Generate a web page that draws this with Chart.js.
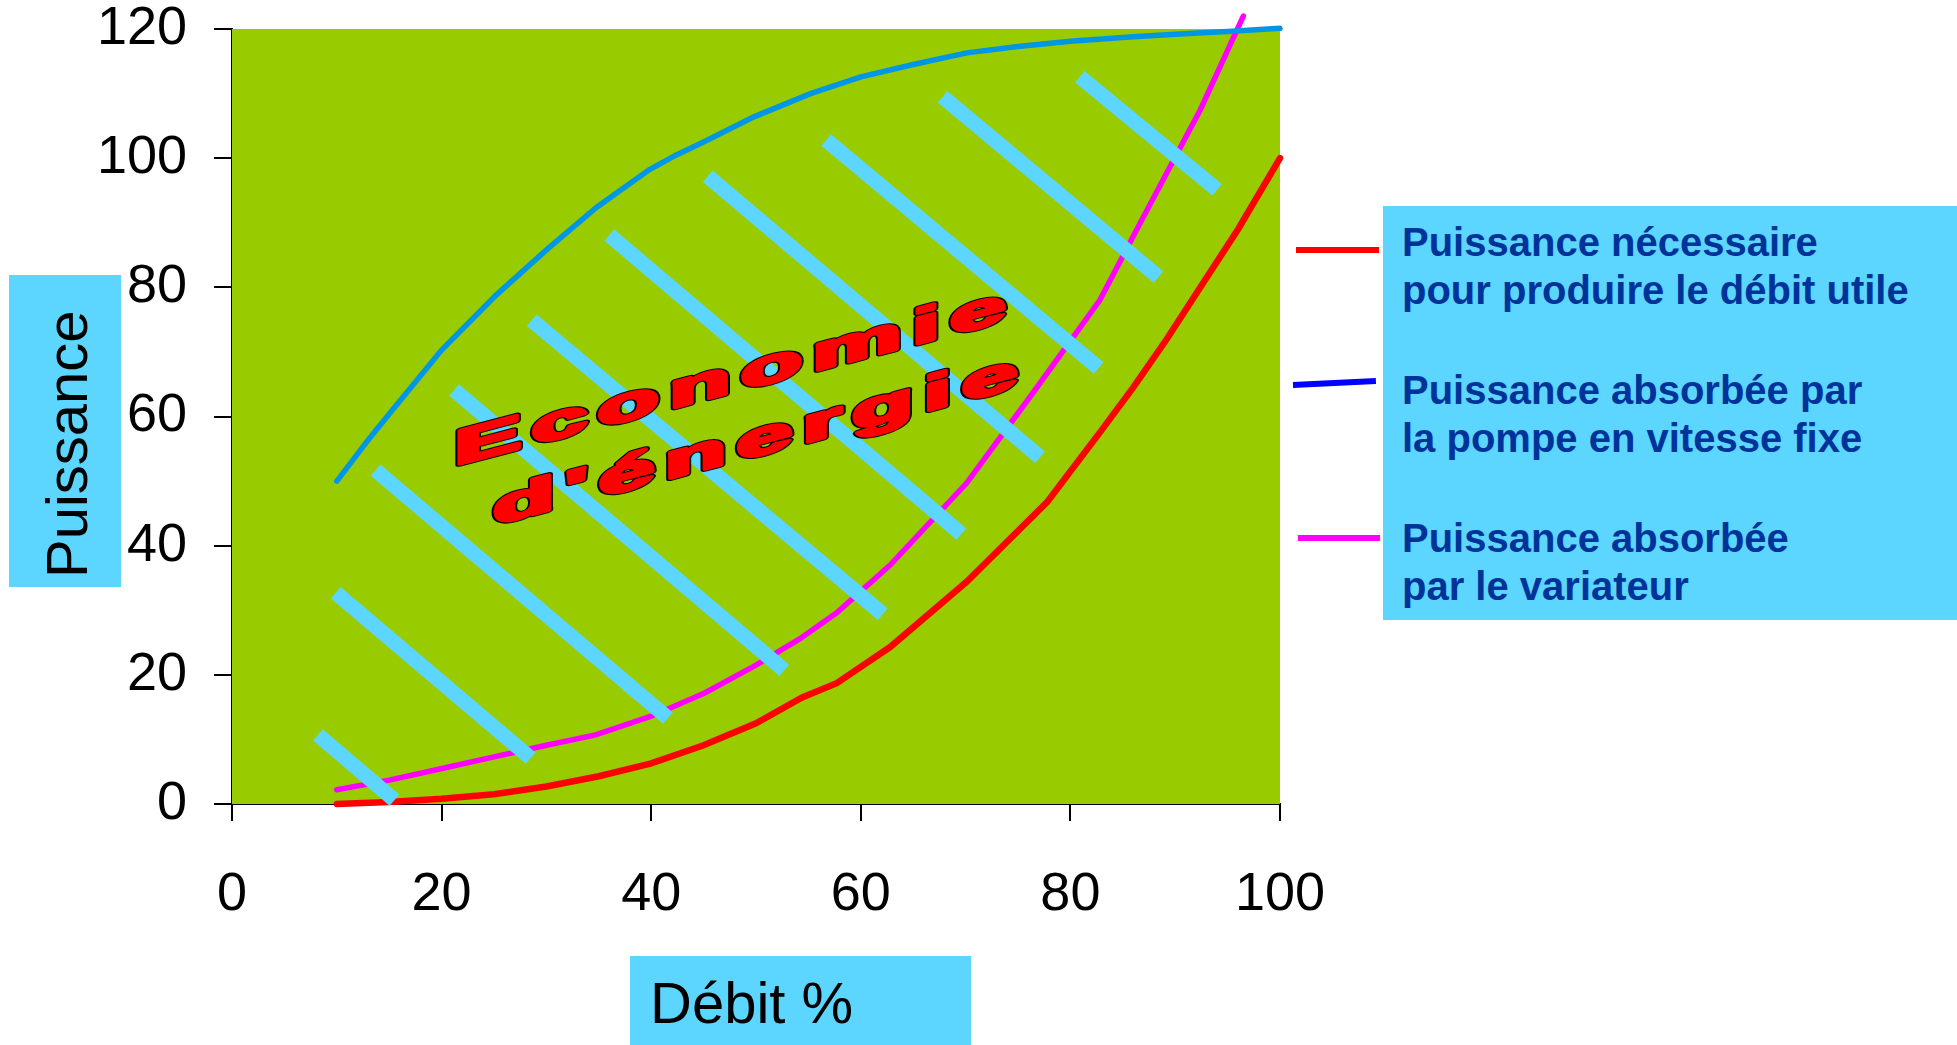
<!DOCTYPE html>
<html>
<head>
<meta charset="utf-8">
<script src="https://cdn.jsdelivr.net/npm/chart.js@4.4.1/dist/chart.umd.min.js"></script>
<style>
  html, body { margin: 0; padding: 0; background: #fff; overflow: hidden; }
  #wrap { position: relative; width: 1957px; height: 1045px; }
  #chart { position: absolute; left: 0; top: 0; }
  .box { position: absolute; background: #5CD6FF; }
  .txt { position: absolute; white-space: nowrap; line-height: 1; font-family: "Liberation Sans", Arial, sans-serif; }
  .leg { font-size: 40px; font-weight: bold; color: #003399; left: 1402px; }
  .swatch { position: absolute; height: 6px; }
</style>
</head>
<body>
<div id="wrap">
  <canvas id="chart" width="1957" height="1045"></canvas>

  <!-- axis titles -->
  <div class="box" style="left:9px; top:275px; width:112px; height:312px;"></div>
  <div class="txt" style="left:38px; top:578px; font-size:58px; color:#000; transform-origin:0 0; transform:rotate(-90deg);">Puissance</div>
  <div class="box" style="left:630px; top:956px; width:341px; height:89px;"></div>
  <div class="txt" style="left:650px; top:974px; font-size:58px; color:#000;">Débit %</div>

  <!-- legend -->
  <div class="swatch" style="left:1296px; top:247px; width:83px; background:#FF0000;"></div>
  <div class="swatch" style="left:1293px; top:382px; width:83px; background:#0000FF; transform-origin:0 50%; transform:rotate(-2.8deg);"></div>
  <div class="swatch" style="left:1298px; top:535px; width:82px; background:#FF00FF;"></div>
  <div class="box" style="left:1383px; top:206px; width:574px; height:414px;"></div>
  <div class="txt leg" style="top:222px;">Puissance nécessaire</div>
  <div class="txt leg" style="top:270px;">pour produire le débit utile</div>
  <div class="txt leg" style="top:370px;">Puissance absorbée par</div>
  <div class="txt leg" style="top:418px;">la pompe en vitesse fixe</div>
  <div class="txt leg" style="top:518px;">Puissance absorbée</div>
  <div class="txt leg" style="top:566px;">par le variateur</div>
</div>

<script>
// Débit % (x) and Puissance (y)
var necessaireX = [10, 15, 20, 25, 30, 35, 40, 45, 50, 54.4, 57.7, 62.8, 70.1, 77.8, 82.8, 86, 89.2, 92.4, 96, 100];
var necessaireY = [0, 0.3, 0.8, 1.5, 2.7, 4.3, 6.3, 9.1, 12.5, 16.5, 18.7, 24.3, 34.4, 46.8, 57.5, 64.5, 72, 80, 89, 100];

var vitesseFixeX = [10, 13.2, 15, 20, 25.2, 30, 34.8, 39.8, 42.4, 45, 49.8, 55.2, 60, 65, 70.1, 75, 80, 86, 90, 95, 100];
var vitesseFixeY = [50, 56.8, 60.4, 70.3, 78.8, 85.8, 92.4, 98.2, 100.5, 102.5, 106.4, 110, 112.6, 114.5, 116.3, 117.3, 118.1, 118.8, 119.2, 119.6, 120.1];

var variateurX = [10, 15, 19.5, 25, 30, 34.7, 40, 45.1, 50, 54.2, 57.7, 62.8, 70.1, 76.4, 82.8, 87, 92.4, 96.5];
var variateurY = [2.2, 3.7, 5.3, 7.3, 9.1, 10.7, 13.6, 17.2, 21.5, 25.6, 29.6, 37, 49.7, 63.6, 78, 91, 107.5, 122];

// hatch stripes of the "energy saving" zone: start and end points
var hachureX1 = [8.2, 9.9, 13.7, 21.2, 28.6, 36, 45.4, 56.7, 67.8, 80.9];
var hachureY1 = [10.7, 32.7, 51.7, 64.1, 74.9, 88.1, 97.2, 102.8, 109.5, 112.6];
var hachureX2 = [15.5, 28.5, 41.6, 52.7, 62.1, 69.6, 77.1, 82.7, 88.4, 94];
var hachureY2 = [0.6, 7.1, 13.3, 20.7, 29.4, 41.8, 53.7, 67.5, 81.6, 95.1];

var xTicks = [0, 20, 40, 60, 80, 100];
var yTicks = [0, 20, 40, 60, 80, 100, 120];

var FONT = '"Liberation Sans", Arial, sans-serif';

function pts(xs, ys) {
    return xs.map(function (x, i) { return {x: x, y: ys[i]}; });
}

var datasets = [];

hachureX1.forEach(function (x1, i) {
    datasets.push({
        data: [{x: x1, y: hachureY1[i]}, {x: hachureX2[i], y: hachureY2[i]}]
        , borderColor: '#5CD6FF'
        , borderWidth: 15
        , borderCapStyle: 'butt'
        , order: 0
    });
});

datasets.push({
    label: 'Puissance nécessaire pour produire le débit utile'
    , data: pts(necessaireX, necessaireY)
    , borderColor: '#FF0000'
    , borderWidth: 6.5
    , order: 1
});
datasets.push({
    label: 'Puissance absorbée par la pompe en vitesse fixe'
    , data: pts(vitesseFixeX, vitesseFixeY)
    , borderColor: '#0096E6'
    , borderWidth: 5.5
    , order: 1
});
datasets.push({
    label: 'Puissance absorbée par le variateur'
    , data: pts(variateurX, variateurY)
    , borderColor: '#FF00FF'
    , borderWidth: 5.5
    , order: 1
});

datasets.forEach(function (d) {
    d.showLine = true;
    d.pointRadius = 0;
    d.tension = 0;
    d.clip = false;
    d.borderCapStyle = d.borderCapStyle || 'round';
});

// green plot background
var plotBackground = {
    id: 'plotBackground'
    , beforeDatasetsDraw: function (chart) {
        var a = chart.chartArea, ctx = chart.ctx;
        ctx.save();
        ctx.fillStyle = '#99CC00';
        ctx.fillRect(a.left, a.top, a.right - a.left, a.bottom - a.top);
        ctx.restore();
    }
};

// skewed WordArt-like label, anchored in data coordinates
var economieLabel = {
    id: 'economieLabel'
    , afterDatasetsDraw: function (chart) {
        var ctx = chart.ctx, xs = chart.scales.x, ys = chart.scales.y;
        var lines = [
            {text: 'Economie', x: 21.2, y: 52.4}
            , {text: "d'énergie", x: 24.9, y: 43.2}
        ];
        var sx = 2.05, slope = 0.263, spacing = 5;
        ctx.save();
        ctx.font = 'bold 49px ' + FONT;
        ctx.lineJoin = 'round';
        ctx.textBaseline = 'alphabetic';
        lines.forEach(function (l) {
            ctx.save();
            ctx.translate(xs.getPixelForValue(l.x), ys.getPixelForValue(l.y));
            ctx.transform(sx, -slope * sx, 0, 1, 0, 0);
            var cx = 0, pos = [];
            for (var i = 0; i < l.text.length; i++) {
                pos.push(cx);
                cx += ctx.measureText(l.text[i]).width + spacing;
            }
            // black outline, then a fat red body
            ctx.strokeStyle = '#000';
            ctx.lineWidth = 5.5;
            for (i = 0; i < l.text.length; i++) ctx.strokeText(l.text[i], pos[i], 0);
            ctx.strokeStyle = '#FF0000';
            ctx.fillStyle = '#FF0000';
            ctx.lineWidth = 3.5;
            for (i = 0; i < l.text.length; i++) {
                ctx.strokeText(l.text[i], pos[i], 0);
                ctx.fillText(l.text[i], pos[i], 0);
            }
            ctx.restore();
        });
        ctx.restore();
    }
};

var tickFont = {family: FONT, size: 54, lineHeight: 1};

function noEdgePadding(s) {
    s.paddingTop = 0;
    s.paddingBottom = 0;
}

new Chart(document.getElementById('chart'), {
    type: 'scatter'
    , data: {datasets: datasets}
    , plugins: [plotBackground, economieLabel]
    , options: {
        responsive: false
        , devicePixelRatio: 1
        , animation: false
        , events: []
        , layout: {padding: {left: 0, top: 29, right: 677, bottom: 0}}
        , plugins: {legend: {display: false}, tooltip: {enabled: false}}
        , scales: {
            x: {
                type: 'linear'
                , min: 0
                , max: 100
                , afterBuildTicks: function (s) { s.ticks = xTicks.map(function (v) { return {value: v}; }); }
                , ticks: {font: tickFont, color: '#000', padding: 47, maxRotation: 0}
                , grid: {drawOnChartArea: false, drawTicks: true, tickLength: 17, color: '#000', lineWidth: 2}
                , border: {display: true, color: '#000', width: 2}
                , afterFit: function (s) { s.height = 241; }
            }
            , y: {
                type: 'linear'
                , min: 0
                , max: 120
                , afterBuildTicks: function (s) { s.ticks = yTicks.map(function (v) { return {value: v}; }); }
                , ticks: {font: tickFont, color: '#000', padding: 27}
                , grid: {drawOnChartArea: false, drawTicks: true, tickLength: 18, color: '#000', lineWidth: 2}
                , border: {display: true, color: '#000', width: 2}
                , afterFit: function (s) { s.width = 232; noEdgePadding(s); }
            }
        }
    }
});
</script>
</body>
</html>
